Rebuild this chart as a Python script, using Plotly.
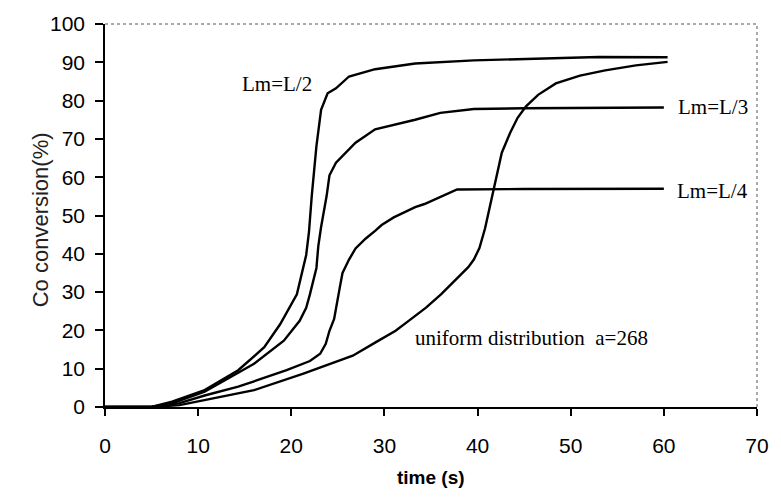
import plotly.graph_objects as go

# --- data ---
t_l2 = [0, 5, 7.2, 10.7, 14.3, 17.1, 18.8, 20.2, 20.6, 21.6, 21.9, 22.2, 22.7, 23.2, 23.9, 24.8, 26.2, 29, 33.3, 39.6, 45, 53, 60.4]
v_l2 = [0, 0, 1.4, 4.4, 9.6, 15.6, 21.6, 27.6, 29.4, 39.7, 45.7, 55.2, 68.1, 77.6, 81.9, 83.2, 86.3, 88.2, 89.7, 90.5, 90.9, 91.4, 91.3]

t_l3 = [0, 5, 7.5, 10.7, 16, 19.2, 20.9, 21.6, 22, 22.7, 22.9, 23.2, 23.8, 24.1, 24.8, 26.9, 29, 33.3, 36, 39.6, 45, 60]
v_l3 = [0, 0, 1.2, 4.0, 11.3, 17.3, 22.5, 25.9, 29.4, 36.3, 42.0, 47.0, 55.2, 60.5, 63.8, 69.0, 72.5, 75.0, 76.8, 77.8, 78.0, 78.2]

t_l4 = [0, 5, 8, 10.7, 14.3, 19.5, 22.0, 23.1, 23.7, 24.1, 24.6, 24.8, 25.2, 25.5, 26.2, 26.9, 28.0, 29, 29.7, 31.0, 32.5, 33.3, 34.3, 35.5, 36.8, 37.8, 45, 60]
v_l4 = [0, 0, 1, 3, 5.3, 9.6, 12.0, 13.9, 16.5, 19.9, 23, 26, 31.1, 35.0, 38.5, 41.4, 44.0, 46.0, 47.5, 49.5, 51.4, 52.2, 53, 54.3, 55.6, 56.8, 56.9, 57]

t_uni = [0, 5, 8, 10.7, 16, 21.3, 26.6, 29, 31.2, 32.6, 34.5, 36.1, 37.8, 39.0, 39.6, 40.2, 40.8, 41.2, 41.6, 42.1, 42.6, 43.5, 44.3, 45.2, 46.5, 48.4, 51.0, 53.7, 57.0, 60.4]
v_uni = [0, 0, 0.5, 1.8, 4.4, 8.7, 13.4, 16.8, 19.9, 22.5, 26.0, 29.5, 33.7, 36.5, 38.5, 41.5, 46.6, 51.0, 56.1, 61.2, 66.4, 71.6, 75.5, 78.5, 81.5, 84.5, 86.5, 87.9, 89.2, 90.1]

x_ticks = [0, 10, 20, 30, 40, 50, 60, 70]
y_ticks = [0, 10, 20, 30, 40, 50, 60, 70, 80, 90, 100]

labels = ["Lm=L/2", "Lm=L/3", "Lm=L/4", "uniform distribution  a=268"]
label_x = [18.5, 65.3, 65.2, 45.8]
label_y = [84.3, 78.3, 56.3, 17.9]

fig = go.Figure()
for tx, vy in [(t_l2, v_l2), (t_l3, v_l3), (t_l4, v_l4), (t_uni, v_uni)]:
    fig.add_trace(go.Scatter(x=tx, y=vy, mode="lines",
                             line=dict(color="#000000", width=2.4),
                             showlegend=False, hoverinfo="skip"))

for txt, ax, ay in zip(labels, label_x, label_y):
    fig.add_annotation(x=ax, y=ay, text=txt, showarrow=False,
                       xref="x", yref="y",
                       font=dict(family="Liberation Serif, Times New Roman, serif", size=21, color="#000"))

# y-axis title
fig.add_annotation(x=-0.122, y=0.49, xref="paper", yref="paper", text="Co conversion(%)",
                   textangle=-90, showarrow=False,
                   font=dict(family="Liberation Sans, Arial, sans-serif", size=22, color="#222"))
# x-axis title
fig.add_annotation(x=0.5, y=-0.185, xref="paper", yref="paper", text="<b>time (s)</b>",
                   showarrow=False, yanchor="middle",
                   font=dict(family="Liberation Sans, Arial, sans-serif", size=19, color="#000"))

# dotted top/right border
fig.add_shape(type="line", xref="paper", yref="paper", x0=0, x1=1, y0=1, y1=1,
              line=dict(color="#555", width=1, dash="dot"))
fig.add_shape(type="line", xref="paper", yref="paper", x0=1, x1=1, y0=0, y1=1,
              line=dict(color="#555", width=1, dash="dot"))

fig.update_layout(
    width=781, height=499,
    margin=dict(l=105, r=13, t=20, b=92),
    paper_bgcolor="white", plot_bgcolor="white",
    font=dict(family="Liberation Sans, Arial, sans-serif", size=21, color="#000"),
    xaxis=dict(range=[0, 70], tickvals=x_ticks, ticks="outside", ticklen=7, tickwidth=1.5,
               tickcolor="#000", showline=True, linecolor="#000", linewidth=2,
               showgrid=False, zeroline=False, ticklabelstandoff=12,
               tickfont=dict(size=21)),
    yaxis=dict(range=[0, 100], tickvals=y_ticks, ticks="outside", ticklen=8, tickwidth=1.5,
               tickcolor="#000", showline=True, linecolor="#000", linewidth=1.5,
               showgrid=False, zeroline=False, ticklabelstandoff=6,
               tickfont=dict(size=21)),
)

fig.write_html("out.html")
